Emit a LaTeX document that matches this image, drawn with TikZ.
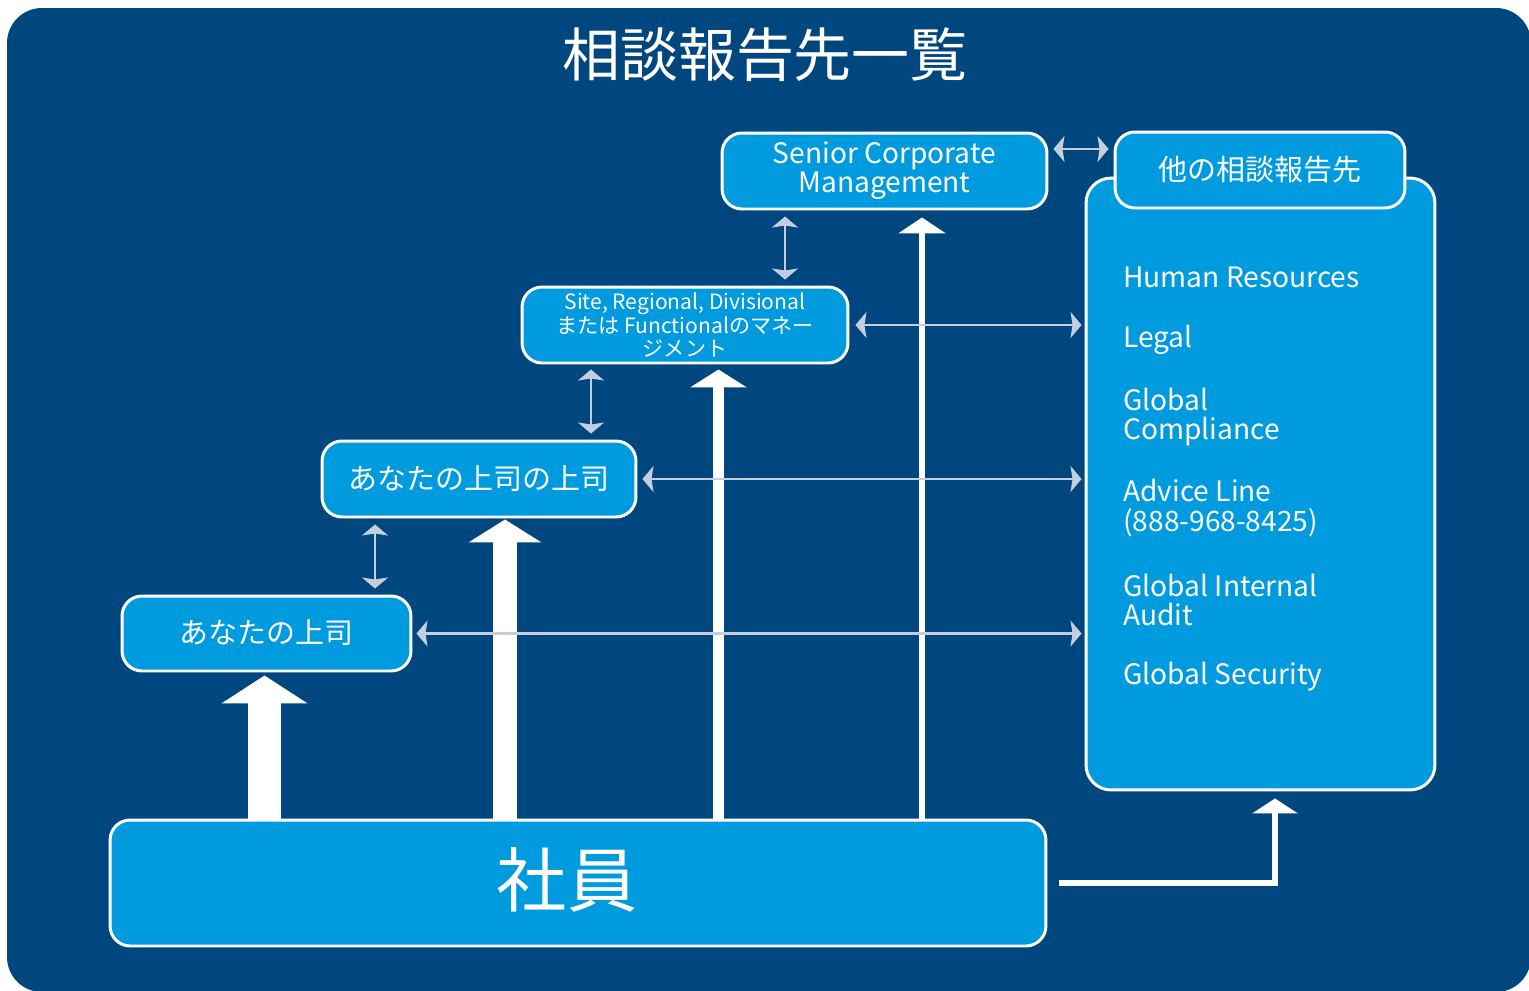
\documentclass[tikz,border=0pt]{standalone}
\usepackage{fontspec}
\setmainfont{Noto Sans CJK JP}
\usetikzlibrary{arrows.meta}

\definecolor{navy}{HTML}{00467F}
\definecolor{skyblue}{HTML}{009BDF}
\definecolor{arrowgrey}{HTML}{C5CEDD}

\tikzset{
  box/.style={draw=white, line width=1.7pt, fill=skyblue, rounded corners=0.4cm,
    text=white, inner sep=0pt, align=center},
  bigup/.style n args={3}{draw=white, line width=#1, -{Triangle[width=#2,length=#3]}},
  twoway/.style={draw=arrowgrey, line width=1.6pt,
    {Stealth[width=0.52cm,length=0.22cm,inset=0.04cm]}-{Stealth[width=0.52cm,length=0.22cm,inset=0.04cm]}},
  item/.style={anchor=west, align=left, inner sep=0pt, text=white,
    font=\fontsize{16}{17}\selectfont}
}

\begin{document}
\begin{tikzpicture}[x=0.02cm,y=-0.02cm]
  \useasboundingbox (0,0) rectangle (1529,991);
  \fill[navy, rounded corners=0.7cm] (7,8) rectangle (1531,992);
  \node[text=white, font=\fontsize{33}{36}\selectfont] (heading) at (765,55) {相談報告先一覧};

  % boxes
  \node[box, minimum width=18.72cm, minimum height=2.52cm] (staff) at (578,883) {};
  \node[text=white, font=\fontsize{40}{42}\selectfont] (stafflabel) at (567,880) {社員};
  \node[box, minimum width=5.78cm, minimum height=1.5cm,
    font=\fontsize{16.5}{18}\selectfont] (boss) at (266.5,633.5) {\raisebox{2pt}{あなたの上司}};
  \node[box, minimum width=6.28cm, minimum height=1.52cm,
    font=\fontsize{16.5}{18}\selectfont] (bossboss) at (479,479) {\raisebox{2pt}{あなたの上司の上司}};
  \node[box, minimum width=6.52cm, minimum height=1.52cm,
    font=\fontsize{12}{13.6}\selectfont] (site) at (685,325)
    {Site, Regional, Divisional\\[0cm]または Functionalのマネー\\[0cm]ジメント};
  \node[box, minimum width=6.5cm, minimum height=1.52cm,
    font=\fontsize{16}{13.6}\selectfont] (senior) at (884.5,171)
    {Senior Corporate\\[0cm]Management};
  \node[box, rounded corners=0.5cm, minimum width=6.98cm, minimum height=12.24cm]
    (inbox) at (1260.5,484) {};
  \node[box, minimum width=5.8cm, minimum height=1.52cm,
    font=\fontsize{16.5}{18}\selectfont] (others) at (1260,170) {\raisebox{1pt}{他の相談報告先}};

  % contacts
  \node[item] (hr) at (1123,277) {Human Resources};
  \node[item] (legal) at (1123,340) {Legal};
  \node[item] (compliance) at (1123,417) {Global\\Compliance};
  \node[item] (advice) at (1123,508) {Advice Line\\(888-968-8425)};
  \node[item] (audit) at (1123,600) {Global Internal\\Audit};
  \node[item] (security) at (1123,677) {Global Security};

  % upward arrows
  \draw[bigup={0.66cm}{1.7cm}{0.56cm}, shorten >=0.06cm]
    (264.5,0 |- staff.north) -- (264.5,0 |- boss.south);
  \draw[bigup={0.48cm}{1.44cm}{0.46cm}, shorten >=0.02cm]
    (505,0 |- staff.north) -- (505,0 |- bossboss.south);
  \draw[bigup={0.22cm}{1.12cm}{0.36cm}, shorten >=0.1cm]
    (718.5,0 |- staff.north) -- (718.5,0 |- site.south);
  \draw[bigup={0.12cm}{0.94cm}{0.32cm}, shorten >=0.14cm]
    (922,0 |- staff.north) -- (922,0 |- senior.south);

  % two-way links
  \draw[twoway, shorten <=0.12cm, shorten >=0.12cm]
    (375,0 |- bossboss.south) -- (375,0 |- boss.north);
  \draw[twoway, shorten <=0.1cm, shorten >=0.12cm]
    (591,0 |- site.south) -- (591,0 |- bossboss.north);
  \draw[twoway, shorten <=0.12cm, shorten >=0.12cm]
    (785,0 |- senior.south) -- (785,0 |- site.north);
  \draw[twoway, shorten <=0.08cm, shorten >=0.06cm]
    (boss.east) -- (boss.east -| inbox.west);
  \draw[twoway, shorten <=0.1cm, shorten >=0.06cm]
    (bossboss.east) -- (bossboss.east -| inbox.west);
  \draw[twoway, shorten <=0.12cm, shorten >=0.06cm]
    (site.east) -- (site.east -| inbox.west);
  \draw[twoway, shorten <=0.1cm, shorten >=0.1cm]
    (senior.east |- 0,149) -- (others.west |- 0,149);

  % route to other contacts
  \draw[draw=white, line width=0.11cm, -{Triangle[width=0.9cm,length=0.3cm]},
    shorten <=0.24cm, shorten >=0.14cm]
    (staff.east) -| ([xshift=0.29cm]inbox.south);
\end{tikzpicture}
\end{document}
